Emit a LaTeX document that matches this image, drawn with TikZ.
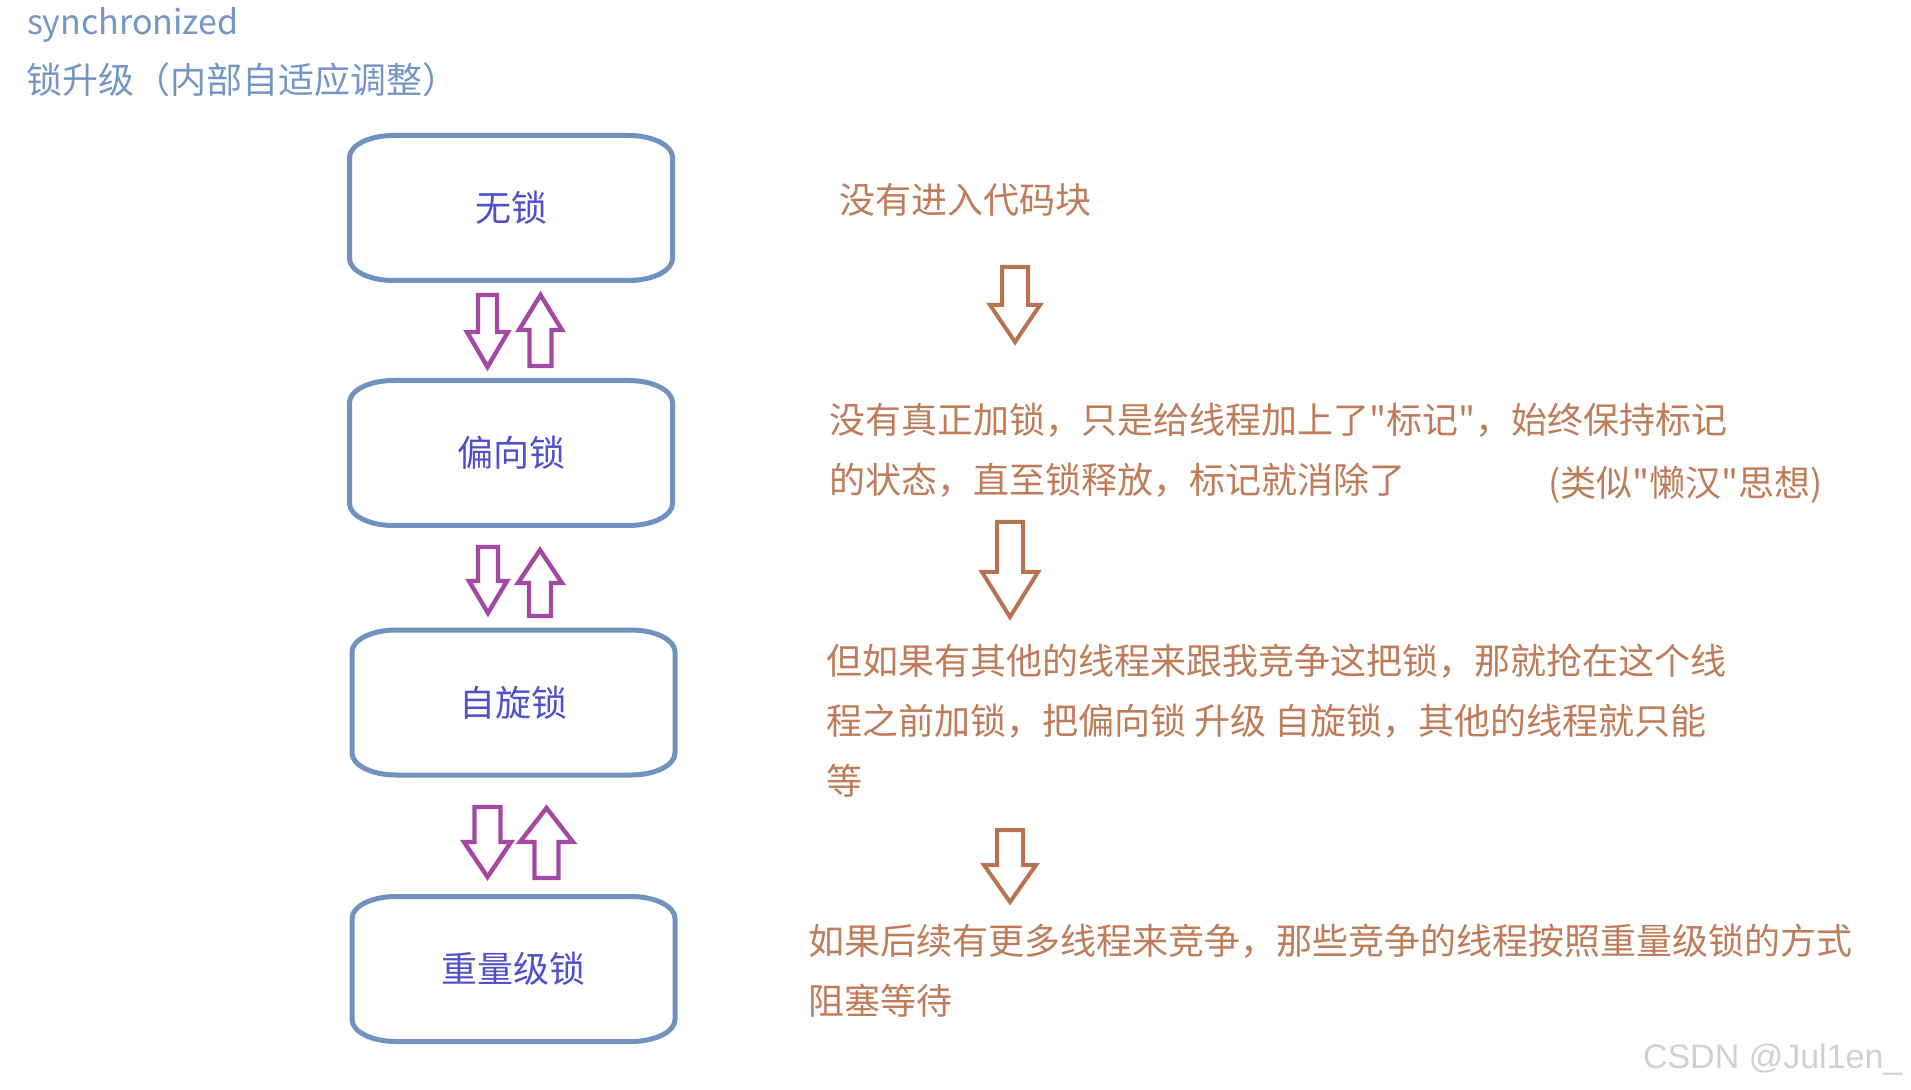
\documentclass[tikz,border=0pt]{standalone}
\usepackage{fontspec}
\newfontfamily\cjk{Noto Sans CJK SC}
\newfontfamily\wmfont{Liberation Sans}
\usetikzlibrary{positioning}
\definecolor{boxblue}{RGB}{111,146,191}
\definecolor{lblue}{RGB}{80,80,205}
\definecolor{ttlblue}{RGB}{117,150,197}
\definecolor{pur}{RGB}{163,73,164}
\definecolor{brn}{RGB}{184,116,82}
\definecolor{txtbrn}{RGB}{190,124,88}
\definecolor{wmgray}{RGB}{208,208,208}

\begin{document}
\begin{tikzpicture}[x=0.5pt,y=-0.5pt,
	every node/.style={inner sep=0pt,outer sep=0pt},
	lockbox/.style={minimum width=161.5pt,minimum height=72.5pt,font=\cjk\fontsize{18pt}{22pt}\selectfont,text=lblue},
	boxline/.style={draw=boxblue,line width=2.5pt},
	title/.style={font=\cjk\fontsize{17pt}{20pt}\selectfont,text=ttlblue},
	note/.style={font=\cjk\fontsize{18pt}{30pt}\selectfont,text=txtbrn,align=left,anchor=west},
	parr/.style={draw=pur,line width=2.2pt},
	oarr/.style={draw=brn,line width=2pt},
	pics/blk/.style n args={4}{code={
		\draw[pic actions] (-#1,-#3) -- (#1,-#3) -- (#1,0) -- (#2,0) -- (0,#4) -- (-#2,0) -- (-#1,0) -- cycle;
	}}]
	\useasboundingbox (0,0) rectangle (1911,1090);

	\node[title,anchor=base west] (t0) at (27,35) {synchronized};
	\node[title,font=\cjk\fontsize{18pt}{20pt}\selectfont,anchor=west] (t1) at (26,79.5) {锁升级（内部自适应调整）};

	\node[lockbox] (b1) at (511,208) {无锁};
	\node[lockbox] (b2) at (511,453) {偏向锁};
	\node[lockbox] (b3) at (513.5,702.5) {自旋锁};
	\node[lockbox] (b4) at (513.5,969) {重量级锁};

	\foreach \b in {b1,b2,b3,b4}
		\draw[boxline] ([xshift=22pt]\b.north west) -- ([xshift=-22pt]\b.north east)
			arc[start angle=90,end angle=0,x radius=22pt,y radius=11pt]
			-- ([yshift=11pt]\b.south east)
			arc[start angle=0,end angle=-90,x radius=22pt,y radius=11pt]
			-- ([xshift=22pt]\b.south west)
			arc[start angle=270,end angle=180,x radius=22pt,y radius=11pt]
			-- ([yshift=-11pt]\b.north west)
			arc[start angle=180,end angle=90,x radius=22pt,y radius=11pt] -- cycle;

	\pic[parr] at (487.5,332) {blk={9.5}{20.5}{37}{35}};
	\pic[parr,rotate=180] at (540.5,330) {blk={11}{21.5}{36}{35}};
	\pic[parr] at (488,581) {blk={10}{19}{34}{32}};
	\pic[parr,rotate=180] at (540,583) {blk={11}{22}{33}{33}};
	\pic[parr] at (487.5,842) {blk={13}{23.5}{35}{35}};
	\pic[parr,rotate=180] at (546.5,842) {blk={12}{26.5}{36}{34}};

	\node[note] (p1) at (839,199.5) {没有进入代码块};
	\pic[oarr] at (1015,305) {blk={13}{25}{38}{37}};
	\node[note] (p2) at (829,450.7) {没有真正加锁，只是给线程加上了"标记"，始终保持标记\\的状态，直至锁释放，标记就消除了};
	\node[note] (p2b) at (1548,485) {(类似"懒汉"思想)};
	\pic[oarr] at (1010,572) {blk={13}{28}{50}{45}};
	\node[note] (p3) at (826,721) {但如果有其他的线程来跟我竞争这把锁，那就抢在这个线\\程之前加锁，把偏向锁 升级 自旋锁，其他的线程就只能\\等};
	\pic[oarr] at (1010,865) {blk={13}{26}{35}{37}};
	\node[note] (p4) at (808,970.8) {如果后续有更多线程来竞争，那些竞争的线程按照重量级锁的方式\\阻塞等待};

	\node[font=\wmfont\fontsize{17pt}{20pt}\selectfont,text=wmgray,anchor=base west] (wm) at (1643,1068) {CSDN @Jul1en\_};
\end{tikzpicture}
\end{document}
